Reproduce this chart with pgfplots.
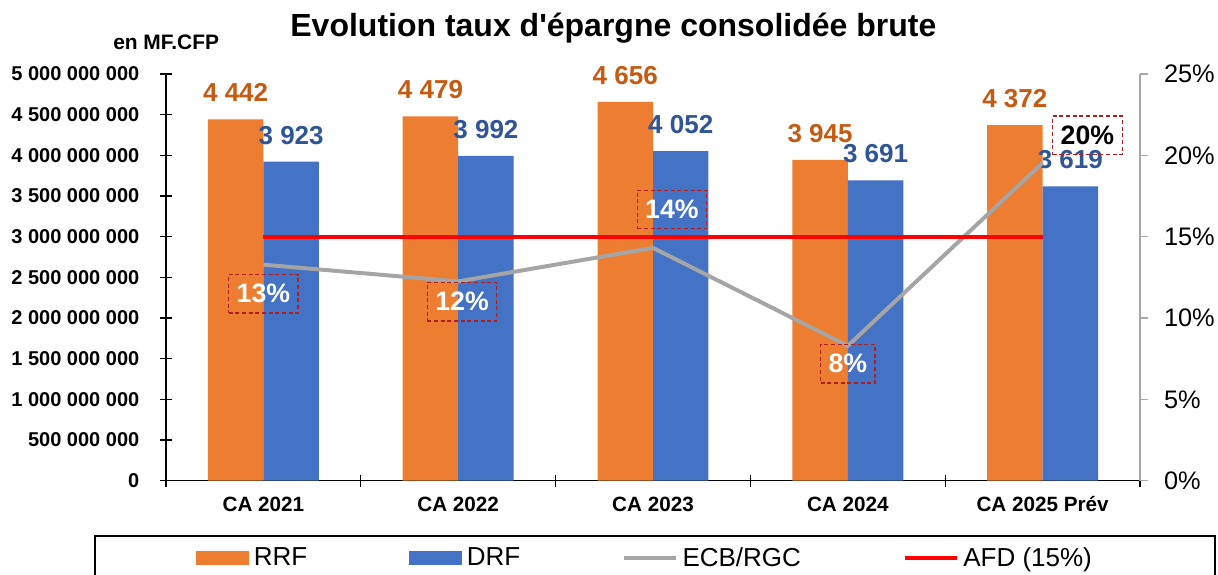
\documentclass[border=0pt]{standalone}
\usepackage{fontspec}
\setmainfont{Liberation Sans}
\usepackage{pgfplots}
\pgfplotsset{compat=1.18}
\usepackage{pgfplotstable}

\definecolor{orng}{HTML}{ED7D31}
\definecolor{blu}{HTML}{4472C4}
\definecolor{gry}{HTML}{A5A5A5}
\definecolor{orngtxt}{HTML}{C55A11}
\definecolor{blutxt}{HTML}{2F5597}
\definecolor{boxred}{HTML}{B01E1E}
\definecolor{axgray}{HTML}{A6A6A6}

\pgfplotstableread{
x rrf drf ecb afd
0 4442 3923 13.28 15
1 4479 3992 12.25 15
2 4656 4052 14.31 15
3 3945 3691 8.29 15
4 4372 3619 19.54 15
}\data

\pgfplotsset{/pgf/number format/assume math mode=true}
\tikzset{pctbox/.style={draw=boxred, dash pattern=on 3pt off 2pt, line width=0.9pt, font=\bfseries\fontsize{20}{20}\selectfont, inner xsep=6pt, minimum height=29pt}}

\begin{document}
\begin{tikzpicture}
\useasboundingbox (0,0) rectangle (913.5pt,-431.25pt);
\node[anchor=base, inner sep=0pt, font=\bfseries\fontsize{24}{28}\selectfont] at (460pt,-27pt) {Evolution taux d\textquotesingle épargne consolidée brute};
\node[anchor=base west, inner sep=0pt, font=\bfseries\fontsize{15.7}{18}\selectfont] at (84.75pt,-36.75pt) {en MF.CFP};

\begin{axis}[
  at={(124.5pt,-360.5pt)}, anchor=south west,
  scale only axis, width=730.5pt, height=305pt,
  xmin=-0.5, xmax=4.5, ymin=0, ymax=5000,
  axis x line*=bottom, axis y line*=left,
  axis line style={black, line width=0.9pt, -},
  ybar=0pt, bar width=41.6pt,
  xtick={0,1,2,3,4},
  xticklabels={CA 2021,CA 2022,CA 2023,CA 2024,CA 2025 Prév},
  major x tick style={draw=none},
  minor xtick={-0.5,0.5,1.5,2.5,3.5,4.5},
  minor x tick style={black, line width=0.9pt},
  ytick={0,500,...,5000},
  ytick style={black, line width=0.9pt},
  tick align=center, major tick length=9pt, minor tick length=9pt,
  yticklabel={\ifdim\tick pt=0pt 0\else\pgfmathprintnumber[fixed,precision=0,1000 sep={\ }]{\tick}\ 000\ 000\fi},
  yticklabel style={font=\bfseries\fontsize{15}{16}\selectfont, xshift=-12pt},
  xticklabel style={font=\bfseries\fontsize{15.5}{16}\selectfont, yshift=-4pt},
  nodes near coords={\hbox{\bfseries\fontsize{19.5}{20}\selectfont\pgfmathprintnumber[fixed,precision=0,1000 sep={\ },assume math mode=true]{\pgfplotspointmeta}}},
  clip=false,
]
\addplot[fill=orng, draw=none, nodes near coords style={font=\bfseries\fontsize{19.5}{20}\selectfont, text=orngtxt, anchor=center, yshift=19.9pt}] table[x=x,y=rrf]{\data};
\addplot[fill=blu, draw=none, nodes near coords style={font=\bfseries\fontsize{19.5}{20}\selectfont, text=blutxt, anchor=center, yshift=19.9pt}] table[x=x,y=drf]{\data};
\end{axis}

\begin{axis}[
  at={(124.5pt,-360.5pt)}, anchor=south west,
  scale only axis, width=730.5pt, height=305pt,
  xmin=-0.5, xmax=4.5, ymin=0, ymax=25,
  axis y line*=right, axis x line=none,
  y axis line style={axgray, line width=1pt, -},
  ytick={0,5,...,25},
  ytick style={axgray, line width=1pt},
  tick align=outside, major tick length=6pt,
  yticklabel={\pgfmathprintnumber{\tick}\%},
  yticklabel style={font=\fontsize{19}{20}\selectfont, xshift=8.5pt},
  clip=false,
  legend columns=4,
  legend cell align=left,
  legend style={draw=none, fill=none, at={(0.0308,-0.190)}, anchor=west, inner sep=0pt,
    font=\fontsize{19.5}{20}\selectfont,
    nodes={inner sep=0pt},
    /tikz/every even column/.append style={column sep=76.5pt},
    /tikz/every odd column/.append style={column sep=3.75pt}},
]
\addlegendimage{legend image code/.code={\fill[orng] (0pt,-4.9pt) rectangle (39pt,4.9pt);}}
\addlegendentry{RRF}
\addlegendimage{legend image code/.code={\fill[blu] (0pt,-4.9pt) rectangle (39pt,4.9pt);}}
\addlegendentry{DRF}
\addplot[gry, line width=3pt, legend image code/.code={\draw[gry, line width=2.5pt] (0pt,0pt) -- (39pt,0pt);}] table[x=x,y=ecb]{\data};
\addlegendentry{ECB/RGC}
\addplot[red, line width=3pt, legend image code/.code={\draw[red, line width=2.5pt] (0pt,0pt) -- (39pt,0pt);}] table[x=x,y=afd]{\data};
\addlegendentry{AFD (15\%)}

\node[pctbox, text=white] at (axis cs:0,11.50) {13\%};
\node[pctbox, text=white] at (axis cs:1.02,11.0) {12\%};
\node[pctbox, text=white] at (axis cs:2.097,16.67) {14\%};
\node[pctbox, text=white] at (axis cs:3.0,7.19) {8\%};
\node[pctbox, text=black] at (axis cs:4.23,21.23) {20\%};
\end{axis}

\draw[black, line width=0.8pt] (71.25pt,-402pt) rectangle (911.25pt,-445pt);
\end{tikzpicture}
\end{document}
